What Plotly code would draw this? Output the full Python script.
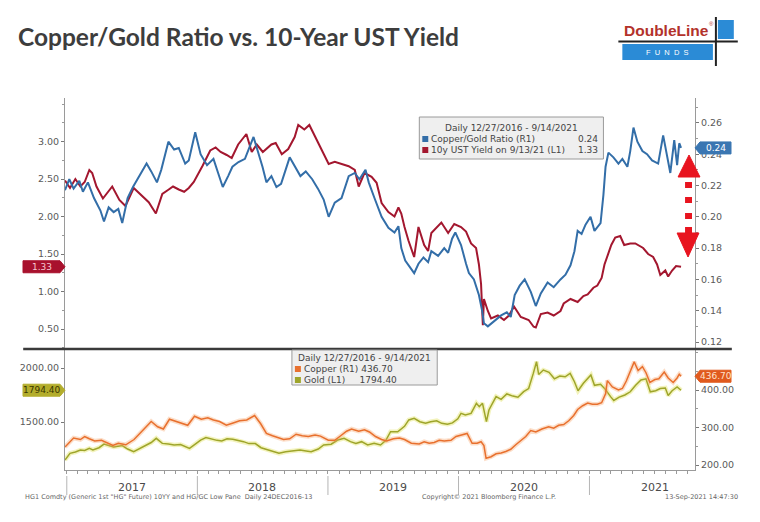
import plotly.graph_objects as go

# ---------------- data ----------------
yield_dates = ["2016-12-27","2017-01-10","2017-01-25","2017-02-08","2017-02-20","2017-03-05","2017-03-13","2017-03-25","2017-04-12","2017-05-08",
"2017-05-28","2017-06-14","2017-07-07","2017-07-28","2017-08-18","2017-09-07","2017-09-25","2017-10-10","2017-10-25","2017-11-10",
"2017-11-25","2017-12-08","2017-12-22","2018-01-16","2018-02-06","2018-02-21","2018-03-07","2018-03-24","2018-04-07","2018-04-25",
"2018-05-18","2018-06-02","2018-06-16","2018-07-03","2018-07-27","2018-08-08","2018-08-25","2018-09-12","2018-09-30","2018-10-10",
"2018-10-27","2018-11-10","2018-11-26","2018-12-14","2019-01-03","2019-01-20","2019-02-08","2019-02-28","2019-03-17","2019-03-28",
"2019-04-13","2019-05-03","2019-05-17","2019-05-31","2019-06-19","2019-07-06","2019-07-17","2019-07-25","2019-08-03","2019-08-14",
"2019-08-30","2019-09-11","2019-09-27","2019-10-08","2019-10-17","2019-11-14","2019-12-03","2019-12-20","2020-01-08","2020-01-22",
"2020-02-05","2020-02-19","2020-02-27","2020-03-04","2020-03-09","2020-03-12","2020-03-23","2020-04-01","2020-04-20","2020-05-07",
"2020-05-21","2020-06-04","2020-06-23","2020-07-15","2020-07-29","2020-08-04","2020-08-18","2020-09-06","2020-09-23","2020-10-12",
"2020-10-21","2020-11-09","2020-11-29","2020-12-15","2020-12-27","2021-01-12","2021-01-23","2021-02-04","2021-02-12","2021-02-20",
"2021-03-03","2021-03-14","2021-03-28","2021-04-08","2021-04-25","2021-05-09","2021-05-31","2021-06-14","2021-06-28","2021-07-09",
"2021-07-18","2021-08-01","2021-08-09","2021-08-20","2021-08-31","2021-09-14"]
yield_vals = [2.48,2.38,2.50,2.40,2.46,2.62,2.58,2.40,2.24,2.40,
2.22,2.14,2.38,2.28,2.19,2.04,2.30,2.35,2.40,2.36,
2.33,2.38,2.46,2.68,2.88,2.92,2.86,2.82,2.78,2.96,
3.10,2.86,2.96,2.86,2.96,2.98,2.83,2.90,3.06,3.22,
3.16,3.22,3.06,2.88,2.70,2.73,2.70,2.67,2.62,2.40,
2.58,2.53,2.45,2.18,2.06,2.00,2.12,2.04,1.86,1.68,
1.46,1.86,1.62,1.54,1.78,1.92,1.78,1.90,1.86,1.80,
1.64,1.58,1.36,1.10,0.55,0.90,0.74,0.64,0.68,0.62,
0.68,0.80,0.66,0.62,0.53,0.52,0.70,0.72,0.68,0.74,
0.84,0.90,0.86,0.94,0.96,1.05,1.08,1.18,1.36,1.46,
1.62,1.72,1.74,1.62,1.64,1.64,1.58,1.50,1.46,1.36,
1.22,1.28,1.20,1.28,1.34,1.33]

ratio_dates = ["2016-12-27","2017-01-08","2017-01-20","2017-02-05","2017-02-15","2017-03-01","2017-03-18","2017-04-05","2017-04-15","2017-04-28",
"2017-05-12","2017-05-25","2017-06-05","2017-06-20","2017-07-05","2017-07-25","2017-08-12","2017-08-25","2017-09-10","2017-09-22",
"2017-10-12","2017-10-28","2017-11-10","2017-11-28","2017-12-08","2017-12-26","2018-01-10","2018-01-28","2018-02-15","2018-02-28",
"2018-03-13","2018-03-28","2018-04-09","2018-04-26","2018-05-14","2018-06-07","2018-06-22","2018-07-02","2018-07-13","2018-07-27",
"2018-08-10","2018-08-23","2018-09-16","2018-10-01","2018-10-16","2018-10-31","2018-11-18","2018-12-04","2018-12-20","2019-01-03",
"2019-01-20","2019-02-08","2019-02-28","2019-03-17","2019-03-30","2019-04-16","2019-04-25","2019-05-11","2019-05-31","2019-06-19",
"2019-07-06","2019-07-17","2019-07-25","2019-08-05","2019-08-30","2019-09-11","2019-09-25","2019-10-08","2019-10-17","2019-11-05",
"2019-11-22","2019-12-03","2019-12-14","2019-12-23","2020-01-08","2020-01-22","2020-01-30","2020-02-13","2020-02-27","2020-03-07",
"2020-03-12","2020-03-23","2020-04-09","2020-04-29","2020-05-15","2020-05-26","2020-06-06","2020-06-20","2020-07-04","2020-07-21",
"2020-08-04","2020-08-18","2020-09-06","2020-09-23","2020-10-12","2020-10-26","2020-11-09","2020-11-20","2020-11-29","2020-12-10",
"2020-12-21","2021-01-04","2021-01-15","2021-02-01","2021-02-09","2021-02-15","2021-02-23","2021-03-09","2021-03-23","2021-04-03",
"2021-04-17","2021-04-25","2021-05-04","2021-05-15","2021-05-29","2021-06-11","2021-06-25","2021-07-12","2021-07-26","2021-08-06",
"2021-08-15","2021-08-26","2021-09-03","2021-09-09","2021-09-14"]
ratio_vals = [0.217,0.224,0.218,0.223,0.216,0.222,0.212,0.204,0.197,0.206,
0.203,0.205,0.196,0.212,0.219,0.227,0.234,0.229,0.222,0.230,
0.248,0.243,0.244,0.234,0.236,0.254,0.240,0.233,0.237,0.228,
0.219,0.226,0.232,0.235,0.237,0.251,0.240,0.232,0.222,0.226,
0.219,0.221,0.238,0.232,0.226,0.229,0.224,0.218,0.211,0.200,
0.209,0.212,0.226,0.228,0.224,0.230,0.222,0.212,0.200,0.193,
0.190,0.194,0.180,0.172,0.164,0.170,0.174,0.171,0.178,0.175,
0.180,0.177,0.186,0.190,0.182,0.170,0.164,0.160,0.150,0.140,
0.132,0.130,0.133,0.137,0.139,0.136,0.150,0.156,0.160,0.152,
0.143,0.151,0.158,0.155,0.160,0.163,0.169,0.178,0.191,0.189,
0.195,0.200,0.191,0.196,0.214,0.232,0.241,0.238,0.234,0.237,
0.232,0.242,0.257,0.248,0.242,0.240,0.236,0.234,0.252,0.240,
0.228,0.249,0.233,0.247,0.244]

copper_dates = ["2016-12-27","2017-01-05","2017-01-20","2017-02-08","2017-02-20","2017-03-05","2017-03-20","2017-04-08","2017-04-25","2017-05-10",
"2017-05-25","2017-06-15","2017-07-08","2017-07-25","2017-08-10","2017-08-25","2017-09-12","2017-09-28","2017-10-15","2017-10-28",
"2017-11-15","2017-12-05","2017-12-24","2018-01-12","2018-01-30","2018-02-15","2018-03-04","2018-03-23","2018-04-11","2018-04-29",
"2018-05-19","2018-06-10","2018-06-27","2018-07-13","2018-07-30","2018-08-15","2018-08-30","2018-09-16","2018-10-04","2018-10-21",
"2018-11-07","2018-11-26","2018-12-11","2019-01-02","2019-01-20","2019-02-03","2019-02-22","2019-03-08","2019-03-28","2019-04-13",
"2019-04-27","2019-05-14","2019-05-31","2019-06-14","2019-07-03","2019-07-20","2019-08-03","2019-08-22","2019-09-13","2019-09-27",
"2019-10-11","2019-10-25","2019-11-08","2019-11-22","2019-12-11","2019-12-25","2020-01-08","2020-01-25","2020-02-08","2020-02-22",
"2020-03-04","2020-03-12","2020-03-18","2020-04-01","2020-04-15","2020-04-29","2020-05-12","2020-05-26","2020-06-09","2020-06-23",
"2020-07-07","2020-07-21","2020-08-04","2020-08-21","2020-09-09","2020-09-23","2020-10-07","2020-10-21","2020-11-04","2020-11-18",
"2020-11-29","2020-12-13","2020-12-27","2021-01-09","2021-01-23","2021-02-04","2021-02-15","2021-02-20","2021-03-06","2021-03-23",
"2021-04-03","2021-04-14","2021-04-25","2021-05-06","2021-05-17","2021-05-29","2021-06-08","2021-06-19","2021-07-03","2021-07-14",
"2021-07-29","2021-08-09","2021-08-23","2021-09-03","2021-09-09","2021-09-14"]
copper_vals = [248,258,272,268,276,270,264,266,258,252,
258,254,268,286,300,316,302,296,322,318,
312,306,330,322,326,320,316,306,312,318,
320,332,310,284,278,272,268,270,282,278,
276,280,277,266,266,276,290,296,290,294,
288,276,268,264,270,272,268,258,256,262,
258,260,266,264,266,276,280,284,258,258,
262,252,218,222,230,232,236,242,254,264,
276,292,288,296,302,298,306,308,318,332,
348,358,365,362,362,366,390,425,408,400,
404,424,448,475,452,462,446,420,428,430,
448,432,420,432,442,436.7]

gold_dates = ["2016-12-27","2017-01-10","2017-01-25","2017-02-08","2017-02-20","2017-03-05","2017-03-15","2017-04-01","2017-04-15","2017-05-05",
"2017-05-12","2017-06-05","2017-06-20","2017-07-07","2017-07-25","2017-08-12","2017-08-25","2017-09-08","2017-09-25","2017-10-12",
"2017-10-28","2017-11-15","2017-12-10","2017-12-28","2018-01-10","2018-01-25","2018-02-10","2018-02-25","2018-03-10","2018-03-25",
"2018-04-10","2018-04-25","2018-05-10","2018-05-25","2018-06-12","2018-06-28","2018-07-15","2018-08-01","2018-08-17","2018-09-05",
"2018-09-25","2018-10-15","2018-11-01","2018-11-15","2018-12-05","2018-12-20","2019-01-10","2019-01-28","2019-02-15","2019-03-05",
"2019-03-20","2019-04-05","2019-04-22","2019-05-10","2019-05-28","2019-06-12","2019-06-25","2019-07-15","2019-08-03","2019-08-15",
"2019-08-30","2019-09-15","2019-10-01","2019-10-15","2019-11-01","2019-11-15","2019-12-01","2019-12-15","2019-12-30","2020-01-08",
"2020-01-20","2020-02-05","2020-02-20","2020-02-28","2020-03-08","2020-03-15","2020-03-19","2020-03-26","2020-04-08","2020-04-15",
"2020-04-29","2020-05-15","2020-06-01","2020-06-15","2020-07-01","2020-07-15","2020-07-28","2020-08-06","2020-08-12","2020-08-25",
"2020-09-10","2020-09-25","2020-10-10","2020-10-25","2020-11-08","2020-11-20","2020-11-30","2020-12-15","2021-01-05","2021-01-15",
"2021-02-01","2021-02-15","2021-03-01","2021-03-10","2021-03-25","2021-04-10","2021-04-25","2021-05-10","2021-05-25","2021-06-08",
"2021-06-20","2021-07-05","2021-07-18","2021-08-01","2021-08-09","2021-08-20","2021-09-03","2021-09-14"]
gold_vals = [1148,1210,1222,1241,1236,1256,1241,1262,1295,1278,
1268,1282,1250,1225,1256,1287,1310,1349,1302,1296,
1287,1292,1256,1300,1333,1356,1340,1330,1325,1345,
1340,1330,1318,1300,1300,1262,1245,1230,1210,1225,
1232,1241,1232,1225,1250,1287,1295,1333,1349,1318,
1302,1318,1287,1302,1287,1330,1410,1410,1460,1519,
1534,1503,1488,1503,1512,1488,1480,1492,1530,1580,
1565,1580,1673,1642,1673,1560,1503,1611,1690,1735,
1710,1760,1740,1730,1781,1810,1950,2058,1940,1981,
1960,1900,1925,1919,1950,1873,1790,1858,1935,1840,
1850,1800,1735,1700,1730,1750,1780,1840,1889,1900,
1780,1790,1810,1815,1745,1790,1825,1794.4]

yield_ticks = [0.5, 1.0, 1.5, 2.0, 2.5, 3.0]
ratio_ticks = [0.12, 0.14, 0.16, 0.18, 0.20, 0.22, 0.24, 0.26]
gold_ticks = [1500, 2000]
copper_ticks = [200, 300, 400]
year_labels = ["2017", "2018", "2019", "2020", "2021"]

# ---------------- geometry helpers (layout only; screen pixel coords) ----------------
OFF = 8                     # default page margin around the plot div
W, H = 760 - 2 * OFF, 522 - 2 * OFF
L, R, T, B = 62, 695, 98, 470
def px(x):
    return (x - L) / (R - L)
def py(y):
    return (B - y) / (B - T)

X_RANGE = ["2016-12-27", "2021-10-23"]
TICKFONT = dict(family="DejaVu Sans", size=9.5, color="#5a5a5a")
AXC = "#9a9a9a"

BLUE = "#336ea8"
RED = "#a3172f"
COPPER = "#e8702e"
GOLD = "#9ea52a"

fig = go.Figure()

fig.add_trace(go.Scatter(x=ratio_dates, y=ratio_vals, xaxis="x2", yaxis="y2", mode="lines",
                         line=dict(color=BLUE, width=2), hoverinfo="skip"))
fig.add_trace(go.Scatter(x=yield_dates, y=yield_vals, xaxis="x2", yaxis="y", mode="lines",
                         line=dict(color=RED, width=2), hoverinfo="skip"))
fig.add_trace(go.Scatter(x=copper_dates, y=copper_vals, xaxis="x", yaxis="y4", mode="lines",
                         line=dict(color="rgba(245,160,100,0.35)", width=4.5), hoverinfo="skip"))
fig.add_trace(go.Scatter(x=gold_dates, y=gold_vals, xaxis="x", yaxis="y3", mode="lines",
                         line=dict(color="rgba(225,225,90,0.4)", width=4.5), hoverinfo="skip"))
fig.add_trace(go.Scatter(x=copper_dates, y=copper_vals, xaxis="x", yaxis="y4", mode="lines",
                         line=dict(color=COPPER, width=1.5), hoverinfo="skip"))
fig.add_trace(go.Scatter(x=gold_dates, y=gold_vals, xaxis="x", yaxis="y3", mode="lines",
                         line=dict(color=GOLD, width=1.5), hoverinfo="skip"))

top_dom = [py(348), 1]
bot_dom = [0, py(349)]

def yax(**kw):
    d = dict(showgrid=False, zeroline=False, showline=True, linecolor=AXC, linewidth=1,
             ticks="outside", ticklen=3, tickcolor="#777", tickfont=TICKFONT, fixedrange=True)
    d.update(kw)
    return d

fig.update_layout(
    width=W, height=H,
    margin=dict(l=L - OFF, r=(OFF + W) - R, t=T - OFF, b=(OFF + H) - B, pad=0),
    paper_bgcolor="white", plot_bgcolor="white",
    showlegend=False,
    xaxis=dict(domain=[0, 1], anchor="y3", type="date", range=X_RANGE, showgrid=False, zeroline=False,
               showline=True, linecolor=AXC, ticks="outside", ticklen=3, tickcolor=AXC,
               tick0="2017-01-01", dtick="M1", showticklabels=False),
    xaxis2=dict(domain=[0, 1], anchor="y", type="date", range=X_RANGE, matches="x", showgrid=False,
                zeroline=False, showline=False, showticklabels=False, ticks=""),
    yaxis=yax(domain=top_dom, anchor="x2", range=[0.2467, 3.58], tickvals=yield_ticks,
              ticktext=[f"{v:.2f}" for v in yield_ticks],
              minor=dict(tick0=0, dtick=0.25, ticks="outside", ticklen=2, tickcolor="#999")),
    yaxis2=yax(overlaying="y", side="right", anchor="x2", range=[0.11617, 0.2759], tickvals=ratio_ticks,
               ticktext=[f"{v:.2f}" for v in ratio_ticks],
               minor=dict(tick0=0, dtick=0.01, ticks="outside", ticklen=2, tickcolor="#999")),
    yaxis3=yax(domain=bot_dom, anchor="x", range=[1055.6, 2176], tickvals=gold_ticks,
               ticktext=[f"{v:.2f}" for v in gold_ticks]),
    yaxis4=yax(overlaying="y3", side="right", anchor="x", range=[186.7, 509.3], tickvals=copper_ticks,
               ticktext=[f"{v:.2f}" for v in copper_ticks],
               minor=dict(tick0=0, dtick=50, ticks="outside", ticklen=2, tickcolor="#999")),
)

shapes = []
ann = []

# panel separator
shapes.append(dict(type="line", xref="paper", yref="paper", x0=px(20), x1=px(732), y0=py(349), y1=py(349),
                   line=dict(color="#3a3a3a", width=2.5)))

# year separators and labels
for yl in year_labels:
    shapes.append(dict(type="line", xref="x", yref="paper", x0=f"{yl}-01-01", x1=f"{yl}-01-01",
                       y0=py(476), y1=py(495), line=dict(color="#b5b5b5", width=1)))
    ann.append(dict(x=f"{yl}-07-02", xref="x", y=py(487), yref="paper", text=yl, showarrow=False,
                    font=dict(family="DejaVu Sans", size=11, color="#4a4a4a"), xanchor="center", yanchor="middle"))

# title
ann.append(dict(x=px(13), y=py(37), xref="paper", yref="paper", text="<b>Copper/Gold Ratio vs. 10-Year UST Yield</b>",
                showarrow=False, xanchor="left", yanchor="middle",
                font=dict(family="Lato", size=24.5, color="#3d3d3d")))

# logo
LOGO_BLUE = "#2b8bd6"
shapes.append(dict(type="rect", xref="paper", yref="paper", x0=px(622), x1=px(713), y0=py(60), y1=py(44),
                   fillcolor=LOGO_BLUE, line=dict(width=0)))
shapes.append(dict(type="rect", xref="paper", yref="paper", x0=px(718), x1=px(734), y0=py(39), y1=py(20),
                   fillcolor=LOGO_BLUE, line=dict(width=0)))
shapes.append(dict(type="line", xref="paper", yref="paper", x0=px(618), x1=px(738), y0=py(41.5), y1=py(41.5),
                   line=dict(color="#222", width=2)))
shapes.append(dict(type="line", xref="paper", yref="paper", x0=px(716), x1=px(716), y0=py(17), y1=py(66),
                   line=dict(color="#222", width=2)))
ann.append(dict(x=px(666), y=py(30.5), xref="paper", yref="paper", text="<b>DoubleLine</b>", showarrow=False,
                xanchor="center", yanchor="middle", font=dict(family="Liberation Sans", size=15.5, color="#b3322b")))
ann.append(dict(x=px(712), y=py(24), xref="paper", yref="paper", text="®", showarrow=False,
                xanchor="center", yanchor="middle", font=dict(family="Liberation Sans", size=6, color="#b3322b")))
ann.append(dict(x=px(667.5), y=py(52), xref="paper", yref="paper", text="F  U  N  D  S", showarrow=False,
                xanchor="center", yanchor="middle", font=dict(family="Liberation Sans", size=7.5, color="white")))

# top legend box
shapes.append(dict(type="rect", xref="paper", yref="paper", x0=px(418), x1=px(603), y0=py(159), y1=py(117),
                   fillcolor="#efefef", line=dict(color="#9a9a9a", width=1)))
LEGFONT = dict(family="DejaVu Sans", size=9, color="#444")
ann.append(dict(x=px(511), y=py(128), xref="paper", yref="paper", text="Daily 12/27/2016 - 9/14/2021",
                showarrow=False, xanchor="center", yanchor="middle", font=LEGFONT))
for i, (col, lab, val) in enumerate([(BLUE, "Copper/Gold Ratio (R1)", "0.24"),
                                     (RED, "10y UST Yield on 9/13/21 (L1)", "1.33")]):
    yc = 139 + 11 * i
    shapes.append(dict(type="rect", xref="paper", yref="paper", x0=px(421), x1=px(427), y0=py(yc + 3), y1=py(yc - 3),
                       fillcolor=col, line=dict(width=0)))
    ann.append(dict(x=px(428), y=py(yc), xref="paper", yref="paper", text=lab, showarrow=False,
                    xanchor="left", yanchor="middle", font=LEGFONT))
    ann.append(dict(x=px(600), y=py(yc), xref="paper", yref="paper", text=val, showarrow=False,
                    xanchor="right", yanchor="middle", font=LEGFONT))

# bottom legend box
shapes.append(dict(type="rect", xref="paper", yref="paper", x0=px(290), x1=px(436), y0=py(385), y1=py(350),
                   fillcolor="#efefef", line=dict(color="#9a9a9a", width=1)))
ann.append(dict(x=px(363), y=py(358), xref="paper", yref="paper", text="Daily 12/27/2016 - 9/14/2021",
                showarrow=False, xanchor="center", yanchor="middle", font=LEGFONT))
for i, (col, lab) in enumerate([(COPPER, "Copper (R1) 436.70"),
                                (GOLD, "Gold (L1)&nbsp;&nbsp;&nbsp;&nbsp;&nbsp;1794.40")]):
    yc = 369 + 11 * i
    shapes.append(dict(type="rect", xref="paper", yref="paper", x0=px(293), x1=px(299), y0=py(yc + 3), y1=py(yc - 3),
                       fillcolor=col, line=dict(width=0)))
    ann.append(dict(x=px(300), y=py(yc), xref="paper", yref="paper", text=lab, showarrow=False,
                    xanchor="left", yanchor="middle", font=LEGFONT))

# value tags on the axes
def tag(side, yref, val, fill, text, tcol, width):
    if side == "left":
        path = f"M0,0 L-5,6 L-{width},6 L-{width},-6 L-5,-6 Z"
        xa, xs = 0, -(width + 5) / 2
    else:
        path = f"M0,0 L5,6 L{width},6 L{width},-6 L5,-6 Z"
        xa, xs = 1, (width + 5) / 2
    shapes.append(dict(type="path", xref="paper", yref=yref, xsizemode="pixel", ysizemode="pixel",
                       xanchor=xa, yanchor=val, path=path, fillcolor=fill, line=dict(color=fill, width=1)))
    ann.append(dict(x=xa, xref="paper", y=val, yref=yref, xshift=xs, text=text, showarrow=False,
                    xanchor="center", yanchor="middle", font=dict(family="DejaVu Sans", size=9, color=tcol)))

tag("left", "y", yield_vals[-1], "#a8112d", "1.33", "#f6c6cf", 42)
tag("right", "y2", ratio_vals[-1], "#3a76b2", "0.24", "white", 36)
tag("left", "y3", gold_vals[-1], "#b3ad2c", "1794.40", "#3a3600", 42)
tag("right", "y4", copper_vals[-1], "#e05a1e", "436.70", "#ffe2cc", 36)

# red dashed double arrow
AR = "#e8141f"
def poly(pts):
    return "M" + " L".join(f"{px(a):.5f},{py(b):.5f}" for a, b in pts) + " Z"
shapes.append(dict(type="path", xref="paper", yref="paper", path=poly([(689, 155), (700, 177), (678, 177)]),
                   fillcolor=AR, line=dict(color=AR, width=1)))
for y0 in (182, 197, 213, 227):
    shapes.append(dict(type="rect", xref="paper", yref="paper", x0=px(685), x1=px(692), y0=py(y0 + 6), y1=py(y0),
                       fillcolor=AR, line=dict(width=0)))
shapes.append(dict(type="path", xref="paper", yref="paper", path=poly([(677, 233), (699, 233), (688, 257)]),
                   fillcolor=AR, line=dict(color=AR, width=1)))

# footer
FOOT = dict(family="DejaVu Sans", size=6.5, color="#666")
ann.append(dict(x=px(20), y=py(497), xref="paper", yref="paper", xanchor="left", yanchor="middle", showarrow=False,
                text='HG1 Comdty (Generic 1st "HG" Future) 10YY and HG/GC Low Pane  Daily 24DEC2016-13', font=FOOT))
ann.append(dict(x=px(488), y=py(497), xref="paper", yref="paper", xanchor="center", yanchor="middle", showarrow=False,
                text="Copyright© 2021 Bloomberg Finance L.P.", font=FOOT))
ann.append(dict(x=px(740), y=py(497), xref="paper", yref="paper", xanchor="right", yanchor="middle", showarrow=False,
                text="13-Sep-2021 14:47:30", font=FOOT))

fig.update_layout(shapes=shapes, annotations=ann)
fig.write_html("out.html")
